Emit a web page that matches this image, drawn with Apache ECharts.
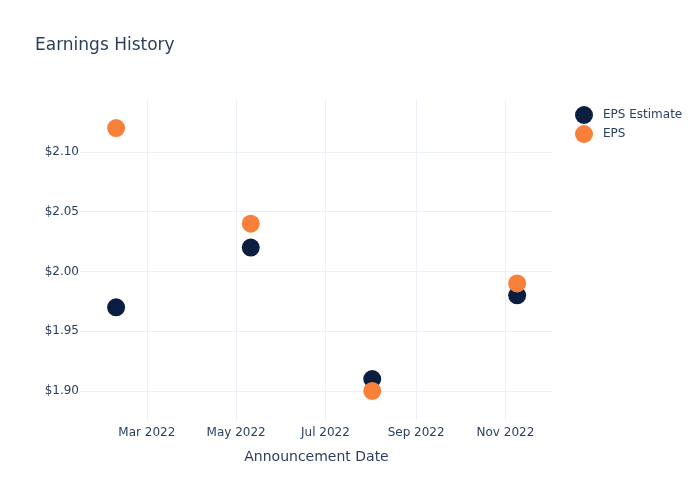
<!DOCTYPE html>
<html>
<head>
<meta charset="utf-8">
<script src="https://cdn.jsdelivr.net/npm/echarts@6/dist/echarts.min.js"></script>
<style>html,body{margin:0;padding:0;background:#fff}#c{width:700px;height:500px}</style>
</head>
<body>
<div id="c"></div>
<script>
const dates = ['2022-02-08', '2022-05-11', '2022-08-02', '2022-11-09'];
const epsEstimate = [1.97, 2.02, 1.91, 1.98];
const eps = [2.12, 2.04, 1.90, 1.99];
const xTicks = ['2022-03-01', '2022-05-01', '2022-07-01', '2022-09-01', '2022-11-01'];
const yTicks = [1.90, 1.95, 2.00, 2.05, 2.10];
const xRange = ['2022-01-14T08:00:00', '2022-12-03T12:00:00'];
const yRange = [1.8757, 2.1435];

const ts = d => new Date(d + (d.length === 10 ? 'T00:00:00Z' : 'Z')).getTime();
const months = ['Jan','Feb','Mar','Apr','May','Jun','Jul','Aug','Sep','Oct','Nov','Dec'];
const font = 'DejaVu Sans, Verdana, sans-serif';
const txt = '#2a3f5f';
const grid = '#ebf0f8';

const chart = echarts.init(document.getElementById('c'), null, {renderer: 'canvas'});
chart.setOption({
  animation: false,
  backgroundColor: '#fff',
  textStyle: {fontFamily: font},
  title: {
    text: 'Earnings History', left: 30, top: 32,
    textStyle: {fontFamily: font, fontSize: 17, fontWeight: 'normal', color: txt}
  },
  legend: {
    orient: 'vertical', left: 570, top: 101,
    itemWidth: 18, itemHeight: 18, itemGap: 1,
    icon: 'circle',
    textStyle: {fontFamily: font, fontSize: 12, color: txt, padding: [0, 0, 0, 5]},
    data: ['EPS Estimate', 'EPS']
  },
  grid: {left: 80, right: 147, top: 100, bottom: 80, containLabel: false},
  xAxis: {
    type: 'value',
    min: ts(xRange[0]), max: ts(xRange[1]),
    name: 'Announcement Date', nameLocation: 'middle', nameGap: 30,
    nameTextStyle: {fontFamily: font, fontSize: 14, color: txt},
    axisLine: {show: false},
    axisTick: {show: false, customValues: xTicks.map(ts)},
    axisLabel: {
      customValues: xTicks.map(ts), margin: 7,
      fontFamily: font, fontSize: 12, color: txt,
      formatter: v => { const d = new Date(v); return months[d.getUTCMonth()] + ' ' + d.getUTCFullYear(); }
    },
    splitLine: {show: true, lineStyle: {color: grid, width: 1}}
  },
  yAxis: {
    type: 'value',
    min: yRange[0], max: yRange[1],
    axisLine: {show: false},
    axisTick: {show: false, customValues: yTicks},
    axisLabel: {
      customValues: yTicks, margin: 1,
      fontFamily: font, fontSize: 12, color: txt,
      formatter: v => '$' + v.toFixed(2)
    },
    splitLine: {show: true, lineStyle: {color: grid, width: 1}}
  },
  series: [
    {
      name: 'EPS Estimate', type: 'scatter', symbolSize: 18,
      itemStyle: {color: '#0b1e40', opacity: 1},
      data: dates.map((d, i) => [ts(d), epsEstimate[i]])
    },
    {
      name: 'EPS', type: 'scatter', symbolSize: 18,
      itemStyle: {color: '#f7813a', opacity: 1},
      data: dates.map((d, i) => [ts(d), eps[i]])
    }
  ]
});
</script>
</body>
</html>
